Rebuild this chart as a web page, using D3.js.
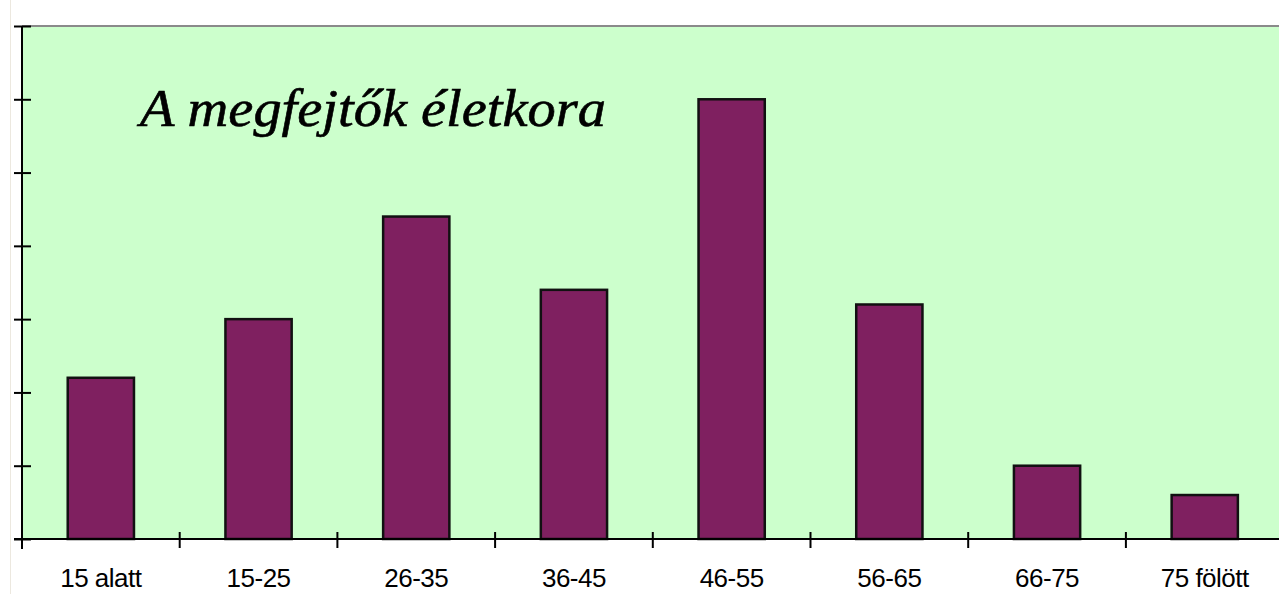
<!DOCTYPE html>
<html>
<head>
<meta charset="utf-8">
<script src="https://cdn.jsdelivr.net/npm/d3@7/dist/d3.min.js"></script>
<style>
  body { margin: 0; background: #fff; }
  svg { display: block; }
</style>
</head>
<body>
<svg></svg>
<script>
// Variables
var width = 1279;
var height = 594;

var categories = ['15 alatt', '15-25', '26-35', '36-45', '46-55', '56-65', '66-75', '75 fölött'];
var values = [11, 15, 22, 17, 30, 16, 5, 3];
var yTicks = [0, 5, 10, 15, 20, 25, 30, 35];
var title = 'A megfejtők életkora';

var plotLeft = 22, plotTop = 26, plotBottom = 539;
var step = 157.7;

var svg = d3.select('svg')
  .attr('width', width)
  .attr('height', height);

var x = d3.scaleBand()
  .domain(categories)
  .range([plotLeft, plotLeft + step * categories.length])
  .paddingInner(0.58)
  .paddingOuter(0.29);

var y = d3.scaleLinear()
  .domain([0, 35])
  .range([plotBottom, plotTop]);

// faint frame line on the left
svg.append('line')
  .attr('x1', 10.5).attr('x2', 10.5)
  .attr('y1', 0).attr('y2', height)
  .style('stroke', '#ece8df')
  .style('stroke-width', 1);

// plot background
svg.append('rect')
  .attr('x', plotLeft)
  .attr('y', plotTop)
  .attr('width', width - plotLeft)
  .attr('height', plotBottom - plotTop)
  .style('fill', '#ccffcc');

// top border
svg.append('line')
  .attr('x1', plotLeft).attr('x2', width)
  .attr('y1', plotTop).attr('y2', plotTop)
  .style('stroke', '#8a8a8a')
  .style('stroke-width', 2);

// title
svg.append('text')
  .attr('x', 140)
  .attr('y', 126)
  .attr('textLength', 466)
  .attr('lengthAdjust', 'spacingAndGlyphs')
  .style('font-family', '"Liberation Serif", serif')
  .style('font-style', 'italic')
  .style('font-size', '52px')
  .style('stroke', '#000')
  .style('stroke-width', 0.6)
  .style('fill', '#000')
  .text(title);

// bars
svg.selectAll('.bar')
  .data(values)
  .enter().append('rect')
  .attr('class', 'bar')
  .attr('x', function (d, i) { return x(categories[i]); })
  .attr('y', function (d) { return y(d); })
  .attr('width', x.bandwidth())
  .attr('height', function (d) { return plotBottom - y(d); })
  .style('fill', '#7f2060')
  .style('stroke', '#111')
  .style('stroke-width', 2.5);

// y axis
var yAxis = svg.append('g')
  .attr('transform', 'translate(' + plotLeft + ',0)')
  .call(d3.axisLeft(y).tickValues(yTicks).tickSize(8).tickFormat(''));
yAxis.select('.domain').remove();
yAxis.selectAll('.tick line')
  .attr('x1', -8).attr('x2', 9)
  .style('stroke', '#000')
  .style('stroke-width', 2);
svg.append('line')
  .attr('x1', plotLeft).attr('x2', plotLeft)
  .attr('y1', plotTop).attr('y2', 549)
  .style('stroke', '#000')
  .style('stroke-width', 2);

// x axis line
svg.append('line')
  .attr('x1', 14).attr('x2', width)
  .attr('y1', plotBottom).attr('y2', plotBottom)
  .style('stroke', '#000')
  .style('stroke-width', 2);

// category boundary ticks
var bounds = categories.slice(1).map(function (c) {
  return x(c) - x.step() * x.paddingOuter();
});
svg.selectAll('.xtick')
  .data(bounds)
  .enter().append('line')
  .attr('class', 'xtick')
  .attr('x1', function (d) { return d; })
  .attr('x2', function (d) { return d; })
  .attr('y1', plotBottom - 7)
  .attr('y2', plotBottom + 9)
  .style('stroke', '#000')
  .style('stroke-width', 2);

// category labels
svg.selectAll('.xlabel')
  .data(categories)
  .enter().append('text')
  .attr('class', 'xlabel')
  .attr('x', function (d) { return x(d) + x.bandwidth() / 2; })
  .attr('y', 587)
  .attr('text-anchor', 'middle')
  .style('font-family', '"Liberation Sans", Arial, sans-serif')
  .style('font-size', '26px')
  .style('letter-spacing', '-0.5px')
  .style('fill', '#000')
  .text(function (d) { return d; });
</script>
</body>
</html>
